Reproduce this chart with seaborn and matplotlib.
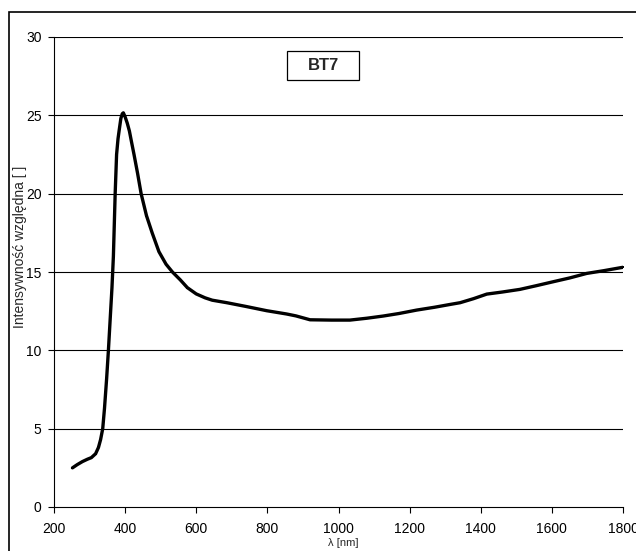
import numpy as np
import pandas as pd
import matplotlib
matplotlib.use('Agg')
import matplotlib.pyplot as plt
from matplotlib.patches import Rectangle
import seaborn as sns

# values
wavelength = [252, 265, 280, 294, 305, 317, 325, 331, 337, 342, 348, 353, 359, 363,
              367, 372, 376, 380, 383, 388, 392, 395, 400, 406, 412, 418, 425, 435,
              445, 460, 476, 495, 515, 533, 555, 575, 600, 625, 645, 686, 740, 798,
              854, 880, 920, 980, 1032, 1080, 1126, 1170, 1220, 1270, 1314, 1342,
              1380, 1417, 1460, 1510, 1555, 1604, 1650, 1698, 1745, 1792, 1800]
intensity = [2.5, 2.7, 2.9, 3.05, 3.15, 3.4, 3.8, 4.3, 5.0, 6.3, 8.2, 10.0, 12.4, 14.0,
             16.0, 20.0, 22.5, 23.5, 24.0, 24.8, 25.1, 25.16, 24.9, 24.5, 24.0, 23.3, 22.5, 21.3,
             20.0, 18.6, 17.5, 16.3, 15.5, 15.0, 14.5, 14.0, 13.6, 13.35, 13.2, 13.04, 12.8, 12.53,
             12.32, 12.2, 11.95, 11.93, 11.93, 12.05, 12.19, 12.35, 12.57, 12.75, 12.93, 13.04,
             13.3, 13.59, 13.72, 13.89, 14.12, 14.38, 14.62, 14.91, 15.08, 15.27, 15.3]
x_ticks = [200, 400, 600, 800, 1000, 1200, 1400, 1600, 1800]
y_ticks = [0, 5, 10, 15, 20, 25, 30]
sample = 'BT7'

df = pd.DataFrame({'wl': wavelength, 'I': intensity})

sns.set_style('white')
plt.rcParams['font.family'] = ['Liberation Sans', 'DejaVu Sans']

fig = plt.figure(figsize=(6.36, 5.51), dpi=100)
ax = fig.add_axes([54/636, 1-507/551, (623-54)/636, (507-37)/551])

sns.lineplot(data=df, x='wl', y='I', ax=ax, color='black', linewidth=2.4,
             marker='s', markersize=2, markeredgewidth=0)

ax.set_xlim(200, 1800)
ax.set_ylim(0, 30)
ax.set_xticks(x_ticks)
ax.set_yticks(y_ticks)
ax.tick_params(axis='both', labelsize=10, direction='out', length=4, width=0.8,
               colors='black', left=True, bottom=True)
ax.tick_params(axis='x', pad=6.5)
ax.tick_params(axis='y', pad=5)
for y in y_ticks[1:]:
    ax.axhline(y, color='black', lw=0.8, zorder=0)
for s in ['top', 'right']:
    ax.spines[s].set_visible(False)
for s in ['left', 'bottom']:
    ax.spines[s].set_color('black')
    ax.spines[s].set_linewidth(0.8)

ax.set_xlabel('')
ax.set_ylabel('')
fig.text(343/636, 1-543/551, 'λ [nm]', ha='center', va='center', fontsize=8)
fig.text(20/636, 1-246.5/551, 'Intensywność względna [ ]', rotation=90,
         ha='center', va='center', fontsize=10)

# sample label box
ax.add_patch(Rectangle((0.4095, 0.9085), 0.1265, 0.0617, transform=ax.transAxes,
                       fc='white', ec='black', lw=0.9, zorder=3))
ax.text(0.4728, 0.939, sample, transform=ax.transAxes, ha='center', va='center',
        fontsize=12, fontweight='bold', zorder=4)

# outer chart border
fig.add_artist(Rectangle((9/636, -0.1), 2, 1.1 - 12/551, fill=False,
                         transform=fig.transFigure, lw=1.2, ec='black'))

fig.savefig('out.png', dpi=100)
